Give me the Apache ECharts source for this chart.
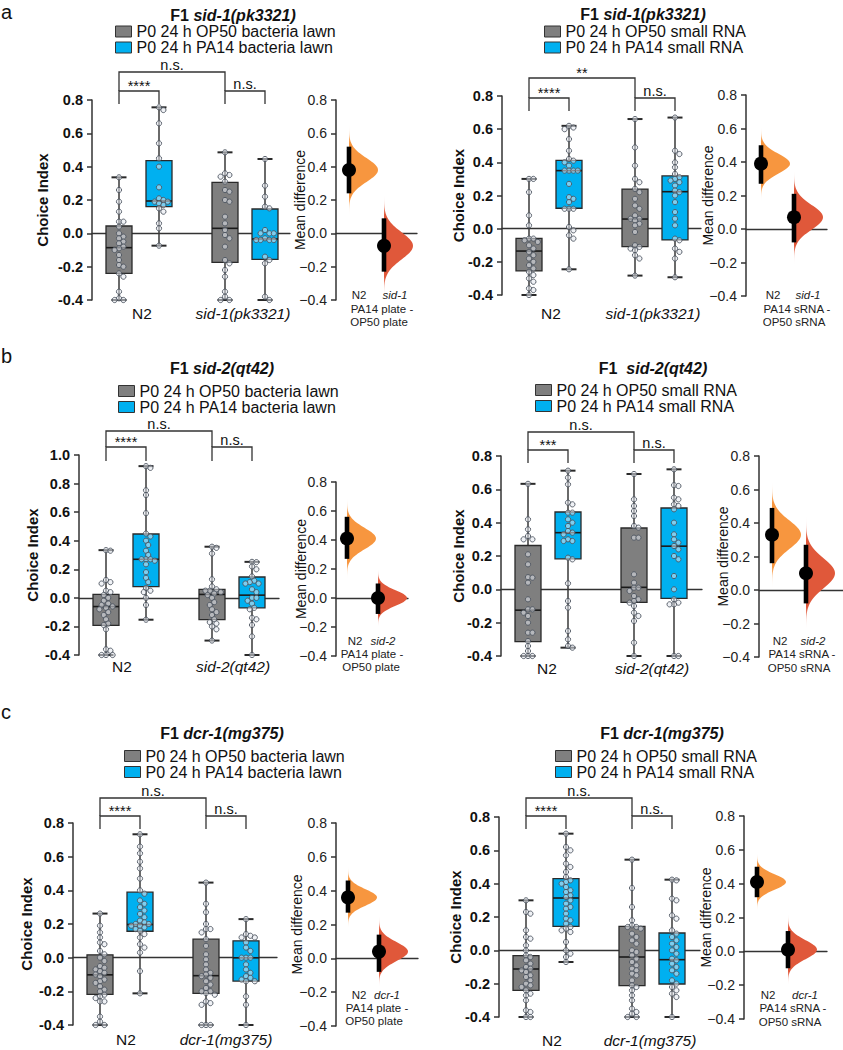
<!DOCTYPE html>
<html>
<head>
<meta charset="utf-8">
<script src="https://cdn.jsdelivr.net/npm/echarts@6.0.0/dist/echarts.min.js"></script>
<style>
html,body{margin:0;padding:0;background:#ffffff;}
#chart{width:843px;height:1050px;}
</style>
</head>
<body>
<div id="chart"></div>
<script>
// ================= DATA =================
const lawnLegend = ['P0 24 h OP50 bacteria lawn', 'P0 24 h PA14 bacteria lawn'];
const rnaLegend = ['P0 24 h OP50 small RNA', 'P0 24 h PA14 small RNA'];
const plateCaption = ['PA14 plate -', 'OP50 plate'];
const rnaCaption = ['PA14 sRNA -', 'OP50 sRNA'];
const panelLetters = ['a', 'b', 'c'];
const yTickMin = -0.4, yTickStep = 0.2;

// ---- a, left: sid-1(pk3321), bacteria lawn ----
const aLeftCats = ['N2', 'sid-1(pk3321)'];
// [min, Q1, median, Q3, max] : N2 OP50, N2 PA14, mutant OP50, mutant PA14
const aLeftBoxes = [[-0.40, -0.24, -0.086, 0.044, 0.336], [-0.074, 0.16, 0.194, 0.436, 0.756],
                    [-0.40, -0.174, 0.03, 0.306, 0.486], [-0.40, -0.156, -0.034, 0.146, 0.446]];
const aLeftN2OP50 = [0.336, 0.26, 0.19, 0.13, 0.07, 0.07, 0.04, 0.0, -0.02, -0.03, -0.05, -0.06, -0.08, -0.09, -0.10, -0.13, -0.16, -0.19, -0.20, -0.24, -0.26, -0.35, -0.39, -0.40, -0.40];
const aLeftN2PA14 = [0.756, 0.74, 0.66, 0.54, 0.45, 0.40, 0.276, 0.21, 0.20, 0.19, 0.19, 0.18, 0.17, 0.15, 0.13, 0.06, 0.03, -0.074];
const aLeftMutOP50 = [0.486, 0.36, 0.35, 0.34, 0.31, 0.26, 0.25, 0.20, 0.19, 0.10, 0.06, 0.02, -0.01, -0.03, -0.08, -0.16, -0.18, -0.22, -0.26, -0.35, -0.38, -0.40, -0.40];
const aLeftMutPA14 = [0.446, 0.286, 0.22, 0.16, 0.15, 0.02, 0.0, 0.0, 0.0, -0.03, -0.04, -0.04, -0.04, -0.04, -0.14, -0.16, -0.18, -0.38, -0.40];
const aLeftSig = ['****', 'n.s.', 'n.s.'];
const aLeftMeanDiff = [0.38, -0.075];
const aLeftCI = [[0.24, 0.52], [-0.23, 0.09]];

// ---- a, right: sid-1(pk3321), small RNA ----
const aRightCats = ['N2', 'sid-1(pk3321)'];
const aRightBoxes = [[-0.40, -0.255, -0.135, -0.058, 0.30], [-0.245, 0.123, 0.35, 0.412, 0.62],
                     [-0.283, -0.108, 0.058, 0.239, 0.661], [-0.293, -0.068, 0.223, 0.318, 0.67]];
const aRightN2OP50 = [0.30, 0.30, 0.22, 0.08, 0.02, -0.06, -0.06, -0.07, -0.08, -0.10, -0.12, -0.14, -0.16, -0.18, -0.20, -0.22, -0.24, -0.26, -0.28, -0.30, -0.32, -0.36, -0.37, -0.40];
const aRightN2PA14 = [0.62, 0.61, 0.60, 0.54, 0.47, 0.42, 0.41, 0.40, 0.38, 0.35, 0.35, 0.35, 0.35, 0.27, 0.19, 0.18, 0.16, 0.12, 0.12, 0.12, 0.01, -0.01, -0.04, -0.06, -0.245];
const aRightMutOP50 = [0.661, 0.49, 0.38, 0.30, 0.28, 0.24, 0.22, 0.18, 0.14, 0.12, 0.08, 0.06, 0.06, 0.05, 0.03, 0.02, -0.02, -0.10, -0.11, -0.12, -0.13, -0.16, -0.18, -0.283];
const aRightMutPA14 = [0.67, 0.47, 0.45, 0.40, 0.37, 0.33, 0.31, 0.30, 0.29, 0.28, 0.26, 0.23, 0.22, 0.20, 0.16, 0.10, 0.06, 0.02, -0.06, -0.07, -0.12, -0.14, -0.18, -0.293];
const aRightSig = ['****', 'n.s.', '**'];
const aRightMeanDiff = [0.39, 0.07];
const aRightCI = [[0.27, 0.50], [-0.08, 0.21]];

// ---- b, left: sid-2(qt42), bacteria lawn ----
const bLeftCats = ['N2', 'sid-2(qt42)'];
const bLeftBoxes = [[-0.40, -0.193, -0.061, 0.024, 0.334], [-0.153, 0.078, 0.27, 0.447, 0.922],
                    [-0.299, -0.153, 0.024, 0.059, 0.358], [-0.40, -0.07, 0.019, 0.146, 0.252]];
const bLeftN2OP50 = [0.334, 0.33, 0.125, 0.11, 0.10, 0.05, 0.04, 0.02, 0.0, -0.02, -0.04, -0.05, -0.06, -0.07, -0.08, -0.10, -0.12, -0.15, -0.18, -0.19, -0.22, -0.36, -0.37, -0.40, -0.40, -0.40];
const bLeftN2PA14 = [0.922, 0.91, 0.753, 0.72, 0.593, 0.45, 0.43, 0.40, 0.37, 0.33, 0.30, 0.27, 0.27, 0.27, 0.26, 0.235, 0.18, 0.14, 0.11, 0.07, 0.05, 0.04, 0.0, -0.05, -0.153];
const bLeftMutOP50 = [0.358, 0.35, 0.31, 0.13, 0.08, 0.06, 0.05, 0.05, 0.04, 0.03, 0.02, 0.0, -0.03, -0.05, -0.08, -0.10, -0.12, -0.15, -0.17, -0.18, -0.20, -0.22, -0.299];
const bLeftMutPA14 = [0.252, 0.25, 0.22, 0.20, 0.15, 0.12, 0.11, 0.10, 0.10, 0.06, 0.04, 0.0, 0.0, -0.02, -0.04, -0.07, -0.08, -0.14, -0.15, -0.19, -0.27, -0.40];
const bLeftSig = ['****', 'n.s.', 'n.s.'];
const bLeftMeanDiff = [0.41, 0.0];
const bLeftCI = [[0.27, 0.56], [-0.11, 0.10]];

// ---- b, right: sid-2(qt42), small RNA ----
const bRightCats = ['N2', 'sid-2(qt42)'];
const bRightBoxes = [[-0.40, -0.314, -0.125, 0.263, 0.633], [-0.35, 0.183, 0.34, 0.464, 0.712],
                     [-0.40, -0.078, 0.012, 0.368, 0.692], [-0.40, -0.054, 0.259, 0.488, 0.72]];
const bRightN2OP50 = [0.633, 0.42, 0.36, 0.32, 0.30, 0.30, 0.21, 0.15, 0.073, 0.07, 0.04, -0.06, -0.12, -0.12, -0.14, -0.16, -0.20, -0.26, -0.26, -0.31, -0.34, -0.37, -0.40, -0.40, -0.40];
const bRightN2PA14 = [0.712, 0.67, 0.63, 0.52, 0.51, 0.46, 0.46, 0.42, 0.40, 0.38, 0.35, 0.34, 0.33, 0.30, 0.29, 0.29, 0.19, 0.18, 0.036, -0.07, -0.11, -0.25, -0.30, -0.34, -0.35];
const bRightMutOP50 = [0.692, 0.54, 0.50, 0.47, 0.44, 0.38, 0.37, 0.31, 0.31, 0.09, 0.04, 0.01, 0.01, -0.01, -0.04, -0.06, -0.07, -0.08, -0.10, -0.14, -0.16, -0.19, -0.32, -0.40];
const bRightMutPA14 = [0.72, 0.625, 0.62, 0.55, 0.54, 0.51, 0.50, 0.48, 0.40, 0.33, 0.30, 0.28, 0.26, 0.24, 0.20, 0.18, 0.08, 0.0, -0.06, -0.08, -0.09, -0.09, -0.40, -0.40];
const bRightSig = ['***', 'n.s.', 'n.s.'];
const bRightMeanDiff = [0.33, 0.10];
const bRightCI = [[0.16, 0.49], [-0.08, 0.27]];

// ---- c, left: dcr-1(mg375), bacteria lawn ----
const cLeftCats = ['N2', 'dcr-1(mg375)'];
const cLeftBoxes = [[-0.40, -0.218, -0.102, 0.017, 0.262], [-0.212, 0.157, 0.197, 0.389, 0.733],
                    [-0.40, -0.212, -0.107, 0.11, 0.446], [-0.40, -0.139, -0.001, 0.10, 0.229]];
const cLeftN2OP50 = [0.262, 0.19, 0.15, 0.12, 0.09, 0.08, 0.04, 0.02, 0.0, -0.02, -0.05, -0.06, -0.07, -0.08, -0.09, -0.10, -0.11, -0.13, -0.14, -0.15, -0.17, -0.19, -0.20, -0.22, -0.23, -0.24, -0.26, -0.26, -0.35, -0.38, -0.40, -0.40];
const cLeftN2PA14 = [0.733, 0.66, 0.62, 0.57, 0.53, 0.47, 0.40, 0.38, 0.34, 0.32, 0.30, 0.28, 0.26, 0.24, 0.22, 0.21, 0.20, 0.20, 0.19, 0.19, 0.18, 0.17, 0.16, 0.14, 0.12, 0.08, 0.06, 0.03, -0.08, -0.212];
const cLeftMutOP50 = [0.446, 0.32, 0.27, 0.20, 0.17, 0.17, 0.15, 0.11, 0.07, 0.02, -0.01, -0.04, -0.07, -0.09, -0.10, -0.11, -0.12, -0.14, -0.16, -0.18, -0.20, -0.20, -0.21, -0.22, -0.26, -0.27, -0.28, -0.40, -0.40, -0.40];
const cLeftMutPA14 = [0.229, 0.14, 0.13, 0.12, 0.12, 0.09, 0.06, 0.04, 0.0, 0.0, 0.0, -0.04, -0.07, -0.09, -0.11, -0.12, -0.13, -0.14, -0.14, -0.23, -0.28, -0.40];
const cLeftSig = ['****', 'n.s.', 'n.s.'];
const cLeftMeanDiff = [0.36, 0.04];
const cLeftCI = [[0.27, 0.46], [-0.08, 0.14]];

// ---- c, right: dcr-1(mg375), small RNA ----
const cRightCats = ['N2', 'dcr-1(mg375)'];
const cRightBoxes = [[-0.40, -0.24, -0.112, -0.032, 0.30], [-0.07, 0.144, 0.314, 0.43, 0.70],
                     [-0.40, -0.212, -0.04, 0.144, 0.544], [-0.40, -0.202, -0.056, 0.104, 0.424]];
const cRightN2OP50 = [0.30, 0.23, 0.22, 0.12, 0.08, 0.07, 0.03, 0.0, -0.03, -0.04, -0.06, -0.08, -0.10, -0.11, -0.12, -0.13, -0.15, -0.16, -0.18, -0.20, -0.21, -0.22, -0.24, -0.26, -0.27, -0.30, -0.36, -0.37, -0.40, -0.40];
const cRightN2PA14 = [0.70, 0.62, 0.60, 0.57, 0.52, 0.50, 0.47, 0.44, 0.42, 0.41, 0.40, 0.38, 0.36, 0.35, 0.33, 0.32, 0.30, 0.28, 0.26, 0.25, 0.22, 0.19, 0.18, 0.16, 0.14, 0.13, 0.12, 0.11, 0.05, 0.0, -0.02, -0.04, -0.07];
const cRightMutOP50 = [0.544, 0.374, 0.26, 0.18, 0.15, 0.14, 0.14, 0.13, 0.10, 0.08, 0.06, 0.04, 0.0, -0.01, -0.03, -0.05, -0.07, -0.09, -0.11, -0.12, -0.14, -0.15, -0.18, -0.21, -0.22, -0.24, -0.27, -0.30, -0.35, -0.37, -0.38, -0.40, -0.40];
const cRightMutPA14 = [0.424, 0.42, 0.31, 0.30, 0.21, 0.19, 0.12, 0.10, 0.08, 0.06, 0.04, 0.02, 0.0, -0.02, -0.05, -0.06, -0.08, -0.10, -0.12, -0.14, -0.18, -0.20, -0.22, -0.24, -0.26, -0.28, -0.40];
const cRightSig = ['****', 'n.s.', 'n.s.'];
const cRightMeanDiff = [0.41, 0.01];
const cRightCI = [[0.32, 0.50], [-0.10, 0.12]];

// ================= STYLE / LAYOUT =================
const FONT = "'Liberation Sans', Arial, Helvetica, sans-serif";
const GRAY = '#7f7f7f', BLUE = '#00b0f0';
const VIOLIN = [[247, 150, 63], [224, 88, 58]];
const BOX_POS = [27, 67, 133, 173];      // horizontal slot of each box (px inside the plot)

const PANELS = [
  { letter: 0, prefix: 'F1 ', strain: 'sid-1(pk3321)', legend: lawnLegend, cats: aLeftCats, boxes: aLeftBoxes,
    points: [aLeftN2OP50, aLeftN2PA14, aLeftMutOP50, aLeftMutPA14], sig: aLeftSig, md: aLeftMeanDiff, ci: aLeftCI,
    estNames: ['N2', 'sid-1'], caption: plateCaption, yMax: 0.8,
    L: { box: [92, 100, 198, 200], est: [336, 100, 81, 200], estX: [13, 48], title: [233, 15], legend: [115, 23.5],
         cat: [[142, 313], [243, 313]], br: [91, 72, 104], gap: 42, estGap: 29, estLab: [359, 395, 295, 382, 309, 379, 322] } },
  { letter: -1, prefix: 'F1 ', strain: 'sid-1(pk3321)', legend: rnaLegend, cats: aRightCats, boxes: aRightBoxes,
    points: [aRightN2OP50, aRightN2PA14, aRightMutOP50, aRightMutPA14], sig: aRightSig, md: aRightMeanDiff, ci: aRightCI,
    estNames: ['N2', 'sid-1'], caption: rnaCaption, yMax: 0.8,
    L: { box: [502, 96, 199, 199], est: [746, 95, 81, 201], estX: [15, 48], title: [643, 14], legend: [544, 23.5],
         cat: [[551, 313], [653, 313]], br: [98, 78, 111], gap: 36, estGap: 31, estLab: [773, 808, 295, 797, 309, 794, 322] } },
  { letter: 1, prefix: 'F1 ', strain: 'sid-2(qt42)', legend: lawnLegend, cats: bLeftCats, boxes: bLeftBoxes,
    points: [bLeftN2OP50, bLeftN2PA14, bLeftMutOP50, bLeftMutPA14], sig: bLeftSig, md: bLeftMeanDiff, ci: bLeftCI,
    estNames: ['N2', 'sid-2'], caption: plateCaption, yMax: 1.0,
    L: { box: [79, 455, 200, 200], est: [336, 482, 72, 174], estX: [11, 42], title: [222, 368], legend: [118, 383],
         cat: [[122, 666], [233, 666]], br: [447, 431, 461], gap: 39, estGap: 28, estLab: [355, 383, 641, 372, 654, 371, 667] } },
  { letter: -1, prefix: 'F1  ', strain: 'sid-2(qt42)', legend: rnaLegend, cats: bRightCats, boxes: bRightBoxes,
    points: [bRightN2OP50, bRightN2PA14, bRightMutOP50, bRightMutPA14], sig: bRightSig, md: bRightMeanDiff, ci: bRightCI,
    estNames: ['N2', 'sid-2'], caption: rnaCaption, yMax: 0.8,
    L: { box: [501, 456, 201, 200], est: [759, 456, 84, 201], estX: [13, 47], title: [653, 368], legend: [535, 382],
         cat: [[547, 668], [652, 668]], br: [450, 432, 463], gap: 35, estGap: 29, estLab: [780, 813, 641, 802, 654, 799, 668] } },
  { letter: 2, prefix: 'F1 ', strain: 'dcr-1(mg375)', legend: lawnLegend, cats: cLeftCats, boxes: cLeftBoxes,
    points: [cLeftN2OP50, cLeftN2PA14, cLeftMutOP50, cLeftMutPA14], sig: cLeftSig, md: cLeftMeanDiff, ci: cLeftCI,
    estNames: ['N2', 'dcr-1'], caption: plateCaption, yMax: 0.8,
    L: { box: [73, 823, 204, 202], est: [336, 823, 82, 203], estX: [12, 43], title: [222, 733], legend: [124, 748],
         cat: [[126, 1039], [226, 1039]], br: [816, 798, 829], gap: 39, estGap: 32, estLab: [359, 387, 995, 377, 1008, 374, 1021] } },
  { letter: -1, prefix: 'F1 ', strain: 'dcr-1(mg375)', legend: rnaLegend, cats: cRightCats, boxes: cRightBoxes,
    points: [cRightN2OP50, cRightN2PA14, cRightMutOP50, cRightMutPA14], sig: cRightSig, md: cRightMeanDiff, ci: cRightCI,
    estNames: ['N2', 'dcr-1'], caption: rnaCaption, yMax: 0.8,
    L: { box: [499, 817, 201, 200], est: [744, 816, 83, 203], estX: [13, 44], title: [662, 733], legend: [555, 748],
         cat: [[552, 1040], [650, 1040]], br: [816, 798, 829], gap: 36, estGap: 31, estLab: [768, 805, 995, 793, 1008, 790, 1022] } }
];
const LETTER_POS = [[1, 11.5], [1, 356], [1, 712]];

// ================= HELPERS =================
function fmtBold(v) { return Math.abs(v) < 1e-9 ? '0.0' : v.toFixed(1); }
function fmtMinus(v) { return Math.abs(v) < 1e-9 ? '0.0' : (v < 0 ? '\u2212' + Math.abs(v).toFixed(1) : v.toFixed(1)); }

// simple beeswarm: horizontal offsets (px) so that dots do not overlap
function swarm(values, cx, yMin, yMax, hPx) {
  const k = hPx / (yMax - yMin);
  const order = values.map((v, i) => i).sort((a, b) => values[b] - values[a]);
  const placed = [], out = new Array(values.length), D = 4.4;
  for (const i of order) {
    const y = values[i] * k;
    let dx = 0;
    for (let t = 0; t < 60; t++) {
      const cand = t === 0 ? 0 : (t % 2 ? 1 : -1) * Math.ceil(t / 2) * 2.2;
      if (placed.every(p => Math.hypot(p[0] - cand, p[1] - y) >= D)) { dx = cand; break; }
    }
    placed.push([dx, y]);
    out[i] = [cx + dx, values[i]];
  }
  return out;
}

function boxRenderer(fill) {
  return function (params, api) {
    const x = api.value(0);
    const pMin = api.coord([x, api.value(1)]), pQ1 = api.coord([x, api.value(2)]);
    const pMed = api.coord([x, api.value(3)]), pQ3 = api.coord([x, api.value(4)]);
    const pMax = api.coord([x, api.value(5)]);
    const cx = pMin[0], hw = 13, cw = 7.5;
    return { type: 'group', children: [
      { type: 'line', shape: { x1: cx, y1: pMax[1], x2: cx, y2: pMin[1] }, style: { stroke: '#383838', lineWidth: 1.5 } },
      { type: 'line', shape: { x1: cx - cw, y1: pMax[1], x2: cx + cw, y2: pMax[1] }, style: { stroke: '#2a2a2a', lineWidth: 2 } },
      { type: 'line', shape: { x1: cx - cw, y1: pMin[1], x2: cx + cw, y2: pMin[1] }, style: { stroke: '#2a2a2a', lineWidth: 2 } },
      { type: 'rect', shape: { x: cx - hw, y: pQ3[1], width: 2 * hw, height: pQ1[1] - pQ3[1] },
        style: { fill: fill, stroke: '#2a2a2a', lineWidth: 1.3 } },
      { type: 'line', shape: { x1: cx - hw, y1: pMed[1], x2: cx + hw, y2: pMed[1] }, style: { stroke: '#1a1a1a', lineWidth: 1.6 } }
    ] };
  };
}

function estRenderer(params, api) {
  const x = api.value(0), m = api.value(1), lo = api.value(2), hi = api.value(3);
  const c = VIOLIN[params.dataIndex];
  const sd = (hi - lo) / 3.92, W = 29, pts = [];
  for (let i = 0; i <= 80; i++) {
    const z = -4 + 8 * i / 80;
    const p = api.coord([x, m + z * sd]);
    pts.push([p[0] + W * Math.exp(-0.5 * z * z), p[1]]);
  }
  const pTop = api.coord([x, m + 4 * sd]), pBot = api.coord([x, m - 4 * sd]);
  pts.push(pTop, pBot);
  const full = 'rgb(' + c.join(',') + ')', none = 'rgba(' + c.join(',') + ',0)';
  const pM = api.coord([x, m]), pLo = api.coord([x, lo]), pHi = api.coord([x, hi]);
  return { type: 'group', children: [
    { type: 'polygon', shape: { points: pts }, style: { fill: { type: 'linear', x: 0, y: 0, x2: 0, y2: 1,
        colorStops: [{ offset: 0, color: none }, { offset: 0.22, color: full }, { offset: 0.78, color: full }, { offset: 1, color: none }] } } },
    { type: 'rect', shape: { x: pM[0] - 2.3, y: pHi[1], width: 4.6, height: pLo[1] - pHi[1] }, style: { fill: '#000' } },
    { type: 'circle', shape: { cx: pM[0], cy: pM[1], r: 7 }, style: { fill: '#000' } }
  ] };
}

function bracketRenderer(P) {
  return function (params, api) {
    const xs = BOX_POS.map(v => api.coord([v, 0])[0]);
    const [low, up, leg] = P.L.br;
    const ls = { stroke: '#333', lineWidth: 1.3, fill: null };
    const lab = (x, y, t) => {
      const star = t.indexOf('*') >= 0;
      return { type: 'text', x: x, y: star ? y - 5 : y - 7, style: { text: t, fill: '#111', fontFamily: FONT, fontSize: 14.5,
        align: 'center', verticalAlign: 'middle', textAlign: 'center', textVerticalAlign: 'middle' } };
    };
    return { type: 'group', children: [
      { type: 'polyline', shape: { points: [[xs[0], leg], [xs[0], low], [xs[1], low], [xs[1], leg]] }, style: ls },
      { type: 'polyline', shape: { points: [[xs[2], leg], [xs[2], low], [xs[3], low], [xs[3], leg]] }, style: ls },
      { type: 'polyline', shape: { points: [[xs[0], low], [xs[0], up], [xs[2], up], [xs[2], low]] }, style: ls },
      lab((xs[0] + xs[1]) / 2, low, P.sig[0]),
      lab((xs[2] + xs[3]) / 2, low, P.sig[1]),
      lab((xs[0] + xs[2]) / 2, up, P.sig[2])
    ] };
  };
}

function text(x, y, t, extra) {
  return { type: 'text', x: x, y: y, silent: true, style: Object.assign({ text: t, fill: '#111', fontFamily: FONT, fontSize: 15.5,
    align: 'center', verticalAlign: 'middle', textAlign: 'center', textVerticalAlign: 'middle' }, extra || {}) };
}

// ================= BUILD OPTION =================
const grids = [], xAxes = [], yAxes = [], series = [], legends = [], graphics = [];

PANELS.forEach((P, i) => {
  const L = P.L, gb = 2 * i, ge = 2 * i + 1;
  grids.push({ left: L.box[0], top: L.box[1], width: L.box[2], height: L.box[3], outerBoundsMode: 'none', containLabel: false });
  grids.push({ left: L.est[0], top: L.est[1], width: L.est[2], height: L.est[3], outerBoundsMode: 'none', containLabel: false });

  const zeroAxis = (g, w) => ({ type: 'value', gridIndex: g, min: 0, max: w,
    axisLine: { show: true, onZero: true, lineStyle: { color: '#333', width: 1.3 } },
    axisTick: { show: false }, axisLabel: { show: false }, splitLine: { show: false } });
  xAxes.push(zeroAxis(gb, L.box[2]));
  xAxes.push(zeroAxis(ge, L.est[2]));

  yAxes.push({ type: 'value', gridIndex: gb, min: yTickMin, max: P.yMax, interval: yTickStep,
    name: 'Choice Index', nameLocation: 'middle', nameRotate: 90, nameGap: L.gap, nameMoveOverlap: false,
    nameTextStyle: { fontFamily: FONT, fontWeight: 'bold', fontSize: 15, color: '#111' },
    axisLine: { show: true, onZero: false, lineStyle: { color: '#333', width: 1.5 } },
    axisTick: { show: true, inside: false, length: 5, lineStyle: { color: '#333', width: 1.5 } },
    axisLabel: { margin: 9, fontFamily: FONT, fontWeight: 'bold', fontSize: 14.5, color: '#111', formatter: fmtBold },
    splitLine: { show: false } });
  yAxes.push({ type: 'value', gridIndex: ge, min: yTickMin, max: 0.8, interval: yTickStep,
    name: 'Mean difference', nameLocation: 'middle', nameRotate: 90, nameGap: L.estGap, nameMoveOverlap: false,
    nameTextStyle: { fontFamily: FONT, fontSize: 14, color: '#111' },
    axisLine: { show: true, onZero: false, lineStyle: { color: '#333', width: 1.5 } },
    axisTick: { show: true, inside: false, length: 5, lineStyle: { color: '#333', width: 1.5 } },
    axisLabel: { margin: 9, fontFamily: FONT, fontSize: 14, color: '#222', formatter: fmtMinus },
    splitLine: { show: false } });

  // boxes
  series.push({ type: 'custom', name: P.legend[0], xAxisIndex: gb, yAxisIndex: gb, z: 2, silent: true,
    itemStyle: { color: GRAY }, encode: { x: 0, y: [1, 2, 3, 4, 5] },
    data: [[BOX_POS[0]].concat(P.boxes[0]), [BOX_POS[2]].concat(P.boxes[2])], renderItem: boxRenderer(GRAY) });
  series.push({ type: 'custom', name: P.legend[1], xAxisIndex: gb, yAxisIndex: gb, z: 2, silent: true,
    itemStyle: { color: BLUE }, encode: { x: 0, y: [1, 2, 3, 4, 5] },
    data: [[BOX_POS[1]].concat(P.boxes[1]), [BOX_POS[3]].concat(P.boxes[3])], renderItem: boxRenderer(BLUE) });
  // points
  const pts = [];
  P.points.forEach((vals, g) => swarm(vals, BOX_POS[g], yTickMin, P.yMax, L.box[3]).forEach(p => pts.push(p)));
  series.push({ type: 'scatter', name: 'points ' + i, xAxisIndex: gb, yAxisIndex: gb, z: 3, silent: true,
    symbol: 'circle', symbolSize: 5.2, data: pts,
    itemStyle: { color: 'rgba(228,231,238,0.55)', borderColor: '#4d5560', borderWidth: 0.9, opacity: 1 } });
  // significance brackets
  series.push({ type: 'custom', name: 'brackets ' + i, xAxisIndex: gb, yAxisIndex: gb, z: 4, silent: true,
    data: [[0, 0]], renderItem: bracketRenderer(P) });
  // estimation plot
  series.push({ type: 'custom', name: 'estimation ' + i, xAxisIndex: ge, yAxisIndex: ge, z: 2, silent: true,
    encode: { x: 0, y: [1, 2, 3] },
    data: [[L.estX[0], P.md[0], P.ci[0][0], P.ci[0][1]], [L.estX[1], P.md[1], P.ci[1][0], P.ci[1][1]]],
    renderItem: estRenderer });

  legends.push({ left: L.legend[0], top: L.legend[1], orient: 'vertical', itemGap: 0, itemWidth: 16, itemHeight: 11,
    icon: 'rect', selectedMode: false, padding: 0,
    textStyle: { fontFamily: FONT, fontSize: 16, color: '#111', lineHeight: 16 },
    data: [{ name: P.legend[0], itemStyle: { color: GRAY, borderColor: '#333', borderWidth: 1 } },
           { name: P.legend[1], itemStyle: { color: BLUE, borderColor: '#333', borderWidth: 1 } }] });

  // title
  graphics.push({ type: 'text', x: L.title[0], y: L.title[1], silent: true, style: {
    text: '{a|' + P.prefix + '}{b|' + P.strain + '}',
    rich: { a: { fontFamily: FONT, fontSize: 16, fontWeight: 'bold', fill: '#111', color: '#111' },
            b: { fontFamily: FONT, fontSize: 16, fontWeight: 'bold', fontStyle: 'italic', fill: '#111', color: '#111' } },
    align: 'center', verticalAlign: 'middle', textAlign: 'center', textVerticalAlign: 'middle' } });
  // category labels
  graphics.push(text(L.cat[0][0], L.cat[0][1], P.cats[0]));
  graphics.push(text(L.cat[1][0], L.cat[1][1], P.cats[1], { fontStyle: 'italic' }));
  // estimation labels
  const E = L.estLab;
  graphics.push(text(E[0], E[2], P.estNames[0], { fontSize: 11.5, fill: '#222' }));
  graphics.push(text(E[1], E[2], P.estNames[1], { fontSize: 11.5, fill: '#222', fontStyle: 'italic' }));
  graphics.push(text(E[3], E[4], P.caption[0], { fontSize: 11.5, fill: '#222' }));
  graphics.push(text(E[5], E[6], P.caption[1], { fontSize: 11.5, fill: '#222' }));
  if (P.letter >= 0) {
    const lp = LETTER_POS[P.letter];
    graphics.push(text(lp[0], lp[1], panelLetters[P.letter], { fontSize: 20, align: 'left', textAlign: 'left' }));
  }
});

const chart = echarts.init(document.getElementById('chart'), null, { renderer: 'svg', width: 843, height: 1050 });
chart.setOption({
  animation: false,
  backgroundColor: '#ffffff',
  grid: grids, xAxis: xAxes, yAxis: yAxes, legend: legends, series: series,
  graphic: { elements: graphics }
});
</script>
</body>
</html>
